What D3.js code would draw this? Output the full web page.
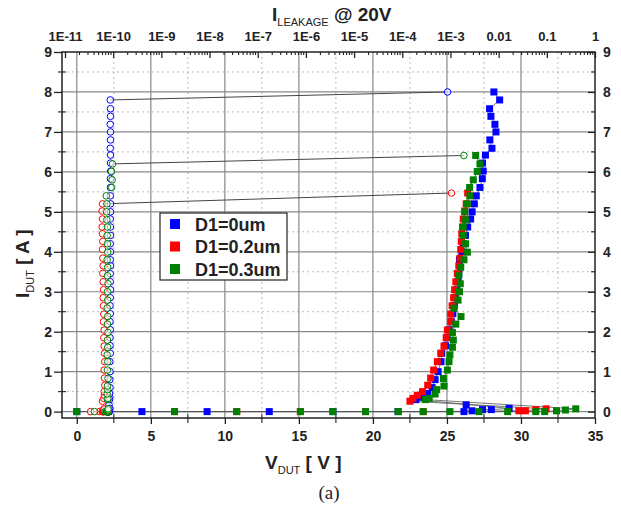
<!DOCTYPE html>
<html>
<head>
<meta charset="utf-8">
<title>TLP I-V and leakage</title>
<script src="https://d3js.org/d3.v7.min.js"></script>
<style>
  body { margin: 0; background: #fff; }
  text { fill: #222; }
</style>
</head>
<body>
<div id="chart"></div>
<script>
// ---- data ----
const legendLabels = ["D1=0um", "D1=0.2um", "D1=0.3um"];
const topTickLabels = ["1E-11", "1E-10", "1E-9", "1E-8", "1E-7", "1E-6", "1E-5", "1E-4", "1E-3", "0.01", "0.1", "1"];
const bottomTicks = [0, 5, 10, 15, 20, 25, 30, 35];
const leftTicks = [0, 1, 2, 3, 4, 5, 6, 7, 8, 9];

// D1=0um : V_DUT [V], I_DUT [A], leakage @20V [A]
const v0um = [0, 4.4, 8.8, 13.0, 17.3, 21.7,
  26.15, 26.3, 26.7, 27.4, 28.0, 29.2,
  22.9, 23.3, 23.7, 24.0, 24.2, 24.4, 24.6, 24.65, 24.9, 25.0, 25.15, 25.3, 25.4, 25.5,
  25.55, 25.65, 25.75, 25.8, 25.85, 25.85, 26.0, 26.1, 26.25, 26.4, 26.6, 26.7, 26.85,
  26.98, 27.23, 27.39, 27.45, 27.4, 27.6, 28.04, 27.9, 28.31, 28.24, 27.97, 27.88, 28.56, 28.17];
const i0um = [0, 0, 0, 0, 0, 0,
  0.0, 0.17, 0.02, 0.05, 0.05, 0.08,
  0.3, 0.36, 0.45, 0.6, 0.8, 1.0, 1.25, 1.46, 1.65, 1.85, 2.05, 2.25, 2.45, 2.65,
  2.85, 3.05, 3.25, 3.45, 3.65, 3.8, 4.0, 4.2, 4.41, 4.62, 4.82, 5.0, 5.2,
  5.4, 5.61, 5.83, 6.02, 6.22, 6.42, 6.59, 6.8, 7.0, 7.19, 7.39, 7.58, 7.8, 8.0];
const leak0um = [7.6e-11, 7.9e-11, 8.0e-11, 8.1e-11, 8.2e-11, 8.2e-11,
  8.3e-11, 8.2e-11, 8.4e-11, 8.3e-11, 8.4e-11, 8.5e-11,
  8.4e-11, 8.5e-11, 8.4e-11, 8.6e-11, 8.5e-11, 8.6e-11, 8.5e-11, 8.7e-11, 8.6e-11, 8.6e-11, 8.7e-11, 8.6e-11, 8.7e-11, 8.6e-11,
  8.7e-11, 8.8e-11, 8.7e-11, 8.7e-11, 8.8e-11, 8.7e-11, 8.8e-11, 8.7e-11, 8.8e-11, 8.8e-11, 8.7e-11, 8.8e-11, 8.8e-11,
  8.7e-11, 8.8e-11, 8.8e-11, 8.9e-11, 8.8e-11, 8.8e-11, 8.7e-11, 8.8e-11, 8.8e-11, 8.7e-11, 8.8e-11, 8.8e-11, 8.7e-11, 8.7e-4];

// D1=0.2um
const v02um = [2.1, 6.6, 10.8, 15.1, 19.5, 23.4,
  29.86, 30.3, 31.0, 31.7,
  22.5, 22.7, 23.0, 23.35, 23.7, 23.9, 24.1, 24.35, 24.58, 24.8, 24.95, 25.03, 25.25, 25.25,
  25.35, 25.45, 25.52, 25.6, 25.7, 25.8, 25.88, 25.93, 25.97, 26.0, 26.05, 26.1, 26.2, 26.3, 26.4];
const i02um = [0, 0, 0, 0, 0, 0,
  0.02, 0.02, 0.05, 0.07,
  0.26, 0.33, 0.41, 0.5, 0.66, 0.84, 1.04, 1.25, 1.46, 1.64, 1.85, 2.04, 2.25, 2.44,
  2.65, 2.85, 3.05, 3.25, 3.46, 3.65, 3.84, 4.06, 4.26, 4.45, 4.62, 4.82, 5.02, 5.2, 5.47];
const leak02um = [3.4e-11, 5.2e-11, 5.9e-11, 6.1e-11, 6.2e-11, 6.3e-11,
  6.2e-11, 6.4e-11, 6.3e-11, 6.5e-11,
  6.0e-11, 6.4e-11, 6.6e-11, 6.5e-11, 6.7e-11, 6.6e-11, 6.5e-11, 6.7e-11, 6.6e-11, 6.5e-11, 6.4e-11, 6.5e-11, 6.3e-11, 6.4e-11,
  6.3e-11, 6.2e-11, 6.3e-11, 6.2e-11, 6.1e-11, 6.2e-11, 6.1e-11, 6.0e-11, 6.1e-11, 6.0e-11, 5.9e-11, 6.0e-11, 5.9e-11, 6.0e-11, 1.05e-3];

// D1=0.3um
const v03um = [0, 2.1, 6.6, 10.8, 15.1, 17.3, 19.5, 21.7, 23.4, 25.2,
  27.16, 29.1, 31.0, 31.6, 32.4, 33.0, 33.7,
  23.55, 23.8, 24.2, 24.31, 24.8, 24.76, 25.03, 25.14, 25.2, 25.37, 25.43, 25.37, 25.6, 25.95,
  25.48, 25.75, 25.85, 25.9, 25.8, 25.93, 26.15, 26.38, 26.26, 26.1, 26.1, 26.26, 26.2, 26.38,
  26.55, 26.53, 26.78, 27.05, 27.23, 26.94];
const i03um = [0, 0, 0, 0, 0, 0, 0, 0, 0, 0,
  0, 0, 0, 0, 0.02, 0.04, 0.07,
  0.3, 0.33, 0.44, 0.55, 0.64, 0.83, 1.04, 1.25, 1.42, 1.61, 1.79, 1.98, 2.19, 2.38,
  2.59, 2.79, 3.0, 3.2, 3.4, 3.61, 3.8, 3.99, 4.2, 4.41, 4.62, 4.8, 5.0, 5.2,
  5.4, 5.61, 5.8, 6.01, 6.2, 6.41];
const leak03um = [4.1e-11, 6.8e-11, 7.2e-11, 7.4e-11, 7.5e-11, 7.5e-11, 7.6e-11, 7.6e-11, 7.7e-11, 7.7e-11,
  7.8e-11, 7.7e-11, 7.8e-11, 7.8e-11, 7.9e-11, 7.8e-11, 7.9e-11,
  7.6e-11, 7.8e-11, 7.5e-11, 7.7e-11, 7.6e-11, 7.8e-11, 7.6e-11, 7.7e-11, 7.5e-11, 7.7e-11, 7.6e-11, 7.8e-11, 7.6e-11, 7.7e-11,
  7.5e-11, 7.7e-11, 7.6e-11, 7.8e-11, 7.6e-11, 7.7e-11, 7.5e-11, 7.7e-11, 7.6e-11, 7.5e-11, 7.6e-11, 7.4e-11, 7.3e-11, 7.4e-11,
  7.2e-11, 9.3e-11, 9.5e-11, 9.2e-11, 9.7e-11, 1.9e-3];

// ---- layout ----
const W = 621, H = 507;
const frame = { left: 62, right: 595, top: 52, bottom: 418 };
const colors = ["#0000ff", "#ff0000", "#008000"];
const sans = "Liberation Sans, Arial, sans-serif";
const seriesList = [
  { v: v0um, i: i0um, leak: leak0um },
  { v: v02um, i: i02um, leak: leak02um },
  { v: v03um, i: i03um, leak: leak03um }
];

const svg = d3.select("#chart").append("svg")
  .attr("width", W).attr("height", H)
  .attr("viewBox", [0, 0, W, H]);
svg.append("rect").attr("width", W).attr("height", H).attr("fill", "#fff");

const x = d3.scaleLinear().domain([-1, 35]).range([frame.left, frame.right]);
const xLeak = d3.scaleLog().domain([1e-11, 1]).range([frame.left + 3, frame.right]);
const y = d3.scaleLinear().domain([-0.16, 9]).range([frame.bottom, frame.top]);

// grid
const grid = svg.append("g");
d3.range(0.5, 9, 1).forEach(v => {
  grid.append("line").attr("x1", frame.left).attr("x2", frame.right)
    .attr("y1", y(v)).attr("y2", y(v))
    .attr("stroke", "#bbb").attr("stroke-dasharray", "2,3");
});
d3.range(2.5, 35, 5).forEach(v => {
  grid.append("line").attr("y1", frame.top).attr("y2", frame.bottom)
    .attr("x1", x(v)).attr("x2", x(v))
    .attr("stroke", "#bbb").attr("stroke-dasharray", "2,3");
});
d3.range(0, 9, 1).forEach(v => {
  grid.append("line").attr("x1", frame.left).attr("x2", frame.right)
    .attr("y1", y(v)).attr("y2", y(v))
    .attr("stroke", "#888").attr("stroke-width", 1.2);
});
d3.range(0, 35, 5).forEach(v => {
  grid.append("line").attr("y1", frame.top).attr("y2", frame.bottom)
    .attr("x1", x(v)).attr("x2", x(v))
    .attr("stroke", "#888").attr("stroke-width", 1.2);
});

// axes
function styleAxis(size) {
  return g => {
    g.select(".domain").remove();
    g.selectAll(".tick line").attr("stroke", "#222").attr("stroke-width", 1.3);
    g.selectAll(".tick text").attr("font-size", size).attr("font-weight", "bold")
      .attr("font-family", sans).attr("fill", "#222");
  };
}

svg.append("g").attr("transform", `translate(0,${frame.bottom})`)
  .call(d3.axisBottom(x).tickValues(bottomTicks).tickSize(6).tickPadding(7))
  .call(styleAxis(14));
svg.append("g").attr("transform", `translate(${frame.left},0)`)
  .call(d3.axisLeft(y).tickValues(leftTicks).tickSize(8).tickPadding(2))
  .call(styleAxis(14));
svg.append("g").attr("transform", `translate(${frame.right},0)`)
  .call(d3.axisRight(y).tickValues(leftTicks).tickSize(-7).tickPadding(8))
  .call(styleAxis(14));
const decades = d3.range(-11, 1).map(p => Math.pow(10, p));
svg.append("g").attr("transform", `translate(0,${frame.top})`)
  .call(d3.axisTop(xLeak).tickValues(decades).tickSize(-6).tickPadding(11.5)
    .tickFormat((d, k) => topTickLabels[k]))
  .call(styleAxis(13));

// minor ticks
const minor = svg.append("g").attr("stroke", "#222").attr("stroke-width", 1.1);
d3.range(0.5, 9, 1).forEach(v => {
  minor.append("line").attr("x1", frame.left - 4).attr("x2", frame.left + 4).attr("y1", y(v)).attr("y2", y(v));
  minor.append("line").attr("x1", frame.right - 4).attr("x2", frame.right).attr("y1", y(v)).attr("y2", y(v));
});
d3.range(2.5, 35, 5).forEach(v => {
  minor.append("line").attr("x1", x(v)).attr("x2", x(v)).attr("y1", frame.bottom - 4).attr("y2", frame.bottom + 5);
});
decades.slice(0, -1).forEach(d => {
  for (let m = 2; m <= 9; m++) {
    minor.append("line").attr("x1", xLeak(d * m)).attr("x2", xLeak(d * m))
      .attr("y1", frame.top).attr("y2", frame.top + 3);
  }
});

// frame
svg.append("rect").attr("x", frame.left).attr("y", frame.top)
  .attr("width", frame.right - frame.left).attr("height", frame.bottom - frame.top)
  .attr("fill", "none").attr("stroke", "#222").attr("stroke-width", 1.5);

// data: I-V squares with thin connecting lines
const plot = svg.append("g");
const line = d3.line().x(d => x(d[0])).y(d => y(d[1]));
seriesList.forEach((s, k) => {
  const pts = s.v.map((v, j) => [v, s.i[j]]);
  plot.append("path").datum(pts).attr("d", line)
    .attr("fill", "none").attr("stroke", "#555").attr("stroke-width", 0.8);
});
seriesList.forEach((s, k) => {
  const pts = s.v.map((v, j) => [v, s.i[j]]);
  plot.selectAll(null).data(pts).enter().append("rect")
    .attr("x", d => x(d[0]) - 3.5).attr("y", d => y(d[1]) - 3.5)
    .attr("width", 7).attr("height", 7).attr("fill", colors[k]);
});

// leakage circles
seriesList.forEach((s, k) => {
  const n = s.leak.length;
  plot.append("line")
    .attr("x1", xLeak(s.leak[n - 2])).attr("y1", y(s.i[n - 2]))
    .attr("x2", xLeak(s.leak[n - 1])).attr("y2", y(s.i[n - 1]))
    .attr("stroke", "#444").attr("stroke-width", 1);
});
seriesList.forEach((s, k) => {
  const pts = s.leak.map((l, j) => [l, s.i[j]]);
  plot.selectAll(null).data(pts).enter().append("circle")
    .attr("cx", d => xLeak(d[0])).attr("cy", d => y(d[1])).attr("r", 3.3)
    .attr("fill", "#fff").attr("fill-opacity", 0.6)
    .attr("stroke", colors[k]).attr("stroke-width", 1);
});

// legend
const lg = svg.append("g").attr("transform", "translate(160,213)");
lg.append("rect").attr("width", 127).attr("height", 67)
  .attr("fill", "#fff").attr("stroke", "#222").attr("stroke-width", 1.2);
legendLabels.forEach((t, k) => {
  lg.append("rect").attr("x", 10).attr("y", 6 + k * 22.5).attr("width", 10).attr("height", 10)
    .attr("fill", colors[k]);
  lg.append("text").attr("x", 35).attr("y", 17.5 + k * 22.5)
    .style("font-family", sans).attr("font-size", 18).attr("font-weight", "bold").text(t);
});

// titles
function subTitle(sel, main, sub, rest) {
  sel.style("font-family", sans).attr("font-weight", "bold").attr("font-size", 19);
  sel.append("tspan").text(main);
  sel.append("tspan").attr("dy", 4.5).attr("font-size", 11).attr("font-weight", "normal").text(sub);
  sel.append("tspan").attr("dy", -4.5).text(rest);
}
subTitle(svg.append("text").attr("x", 272).attr("y", 21), "I", "LEAKAGE", " @ 20V");
subTitle(svg.append("text").attr("x", 265).attr("y", 469), "V", "DUT", " [ V ]");
subTitle(svg.append("text").attr("transform", "translate(29,298) rotate(-90)"), "I", "DUT", " [ A ]");

svg.append("text").attr("x", 329).attr("y", 499).attr("text-anchor", "middle")
  .style("font-family", "'Liberation Serif', 'Times New Roman', serif").attr("font-size", 19)
  .text("(a)");
</script>
</body>
</html>
